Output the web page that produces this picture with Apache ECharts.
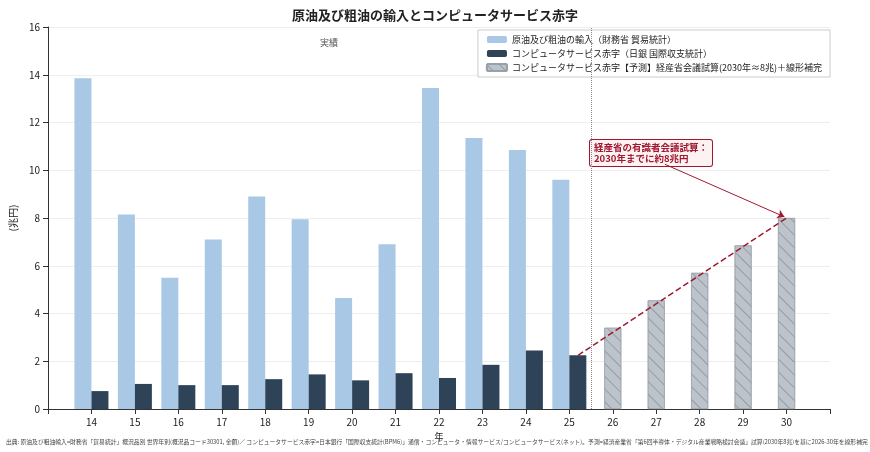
<!DOCTYPE html>
<html><head><meta charset="utf-8">
<script src="https://cdn.jsdelivr.net/npm/echarts@6/dist/echarts.min.js"></script>
<style>html,body{margin:0;padding:0;background:#fff}#c{width:870px;height:452px}</style>
</head><body><div id="c"></div>
<script>
const years = [14,15,16,17,18,19,20,21,22,23,24,25];
const oilImports = [13.85,8.15,5.5,7.1,8.9,7.95,4.65,6.9,13.45,11.35,10.85,9.6];
const compDeficit = [0.75,1.05,1.0,1.0,1.25,1.45,1.2,1.5,1.3,1.85,2.45,2.25];
const forecastYears = [26,27,28,29,30];
const forecastDeficit = [3.4,4.55,5.7,6.85,8.0];
const tickLabels = [14,15,16,17,18,19,20,21,22,23,24,25,26,27,28,29,30];

const F = 'Noto Sans CJK JP';
const chart = echarts.init(document.getElementById('c'));
const xBase = {type:'value', min:13, max:31, interval:1,
  axisLine:{lineStyle:{color:'#333'}}, axisTick:{show:true, lineStyle:{color:'#333'}},
  splitLine:{show:false},
  axisLabel:{color:'#222', fontSize:10, fontFamily:F, formatter:v=>tickLabels.includes(v)?String(v):''}};
chart.setOption({
  animation:false,
  textStyle:{fontFamily:F},
  title:{text:'原油及び粗油の輸入とコンピュータサービス赤字', left:'center', top:4,
    textStyle:{fontSize:13, fontWeight:'bold', color:'#222', fontFamily:F}},
  grid:{left:48, right:40, top:27, bottom:43},
  legend:{orient:'vertical', right:40, top:30, itemWidth:20, itemHeight:7, itemGap:5,
    padding:[5,8], borderColor:'#ccc', borderWidth:1, backgroundColor:'#fff',
    textStyle:{fontSize:9, color:'#222', fontFamily:F},
    data:['原油及び粗油の輸入（財務省 貿易統計）','コンピュータサービス赤字（日銀 国際収支統計）','コンピュータサービス赤字【予測】経産省会議試算(2030年≈8兆)＋線形補完']},
  xAxis:[Object.assign({name:'年', nameLocation:'middle', nameGap:13, nameTextStyle:{fontSize:9,color:'#222'}}, xBase),
         Object.assign({}, xBase, {show:false})],
  yAxis:{type:'value', min:0, max:16, interval:2, name:'(兆円)', nameLocation:'middle', nameGap:26,
    nameTextStyle:{fontSize:10, color:'#222'},
    axisLine:{show:true, lineStyle:{color:'#333'}}, axisTick:{show:true},
    axisLabel:{fontSize:10, color:'#222'}, splitLine:{lineStyle:{color:'#eee'}}},
  series:[
    {name:'原油及び粗油の輸入（財務省 貿易統計）', type:'bar', barWidth:17, barGap:'0%',
     itemStyle:{color:'#a8c8e6'}, data:years.map((y,i)=>[y,oilImports[i]])},
    {name:'コンピュータサービス赤字（日銀 国際収支統計）', type:'bar', barWidth:17, barGap:'0%',
     itemStyle:{color:'#2e4358'}, data:years.map((y,i)=>[y,compDeficit[i]])},
    {name:'コンピュータサービス赤字【予測】経産省会議試算(2030年≈8兆)＋線形補完', type:'bar', xAxisIndex:1, barWidth:17,
     itemStyle:{color:'#bcc3ca', borderColor:'#98a1aa', borderWidth:0.6,
       decal:{symbol:'rect', symbolSize:1, dashArrayX:[1,0], dashArrayY:[1,8], rotation:Math.PI/4, color:'#949ca5'}},
     data:forecastYears.map((y,i)=>[y,forecastDeficit[i]]),
     markLine:{silent:true, symbol:'none', label:{show:false},
       lineStyle:{type:'dotted', color:'#888', width:1}, data:[{xAxis:25.5}]}},
    {type:'line', xAxisIndex:1, symbol:'none', silent:true,
     lineStyle:{color:'#a01830', type:'dashed', width:1.5},
     data:[[25.2, compDeficit[11]],[30, forecastDeficit[4]]],
     markLine:{silent:true, symbol:['none','arrow'], symbolSize:7, label:{show:false},
       lineStyle:{color:'#a01830', type:'solid', width:1},
       data:[[{coord:[27.2,10.25]},{coord:[29.95,8.05]}]]}}
  ],
  graphic:[
    {type:'text', left:320, top:38, style:{text:'実績', fontSize:9, fill:'#555', fontFamily:F}},
    {type:'text', left:589, top:139, style:{text:'経産省の有識者会議試算：\n2030年までに約8兆円', fontSize:9.5, fontWeight:'bold',
      fill:'#a01830', fontFamily:F, lineHeight:11, backgroundColor:'#fdf2f2', borderColor:'#a01830', borderWidth:1,
      borderRadius:2, padding:[2,4]}},
    {type:'text', left:6, top:439, style:{text:'出典: 原油及び粗油輸入=財務省「貿易統計」概況品別 世界年別(概況品コード30301, 金額)／ コンピュータサービス赤字=日本銀行「国際収支統計(BPM6)」通信・コンピュータ・情報サービス/コンピュータサービス(ネット)。予測=経済産業省「第6回半導体・デジタル産業戦略検討会議」試算(2030年8兆)を基に2026-30年を線形補完',
      fontSize:5.8, fill:'#444', fontFamily:F}}
  ]
});
</script></body></html>
